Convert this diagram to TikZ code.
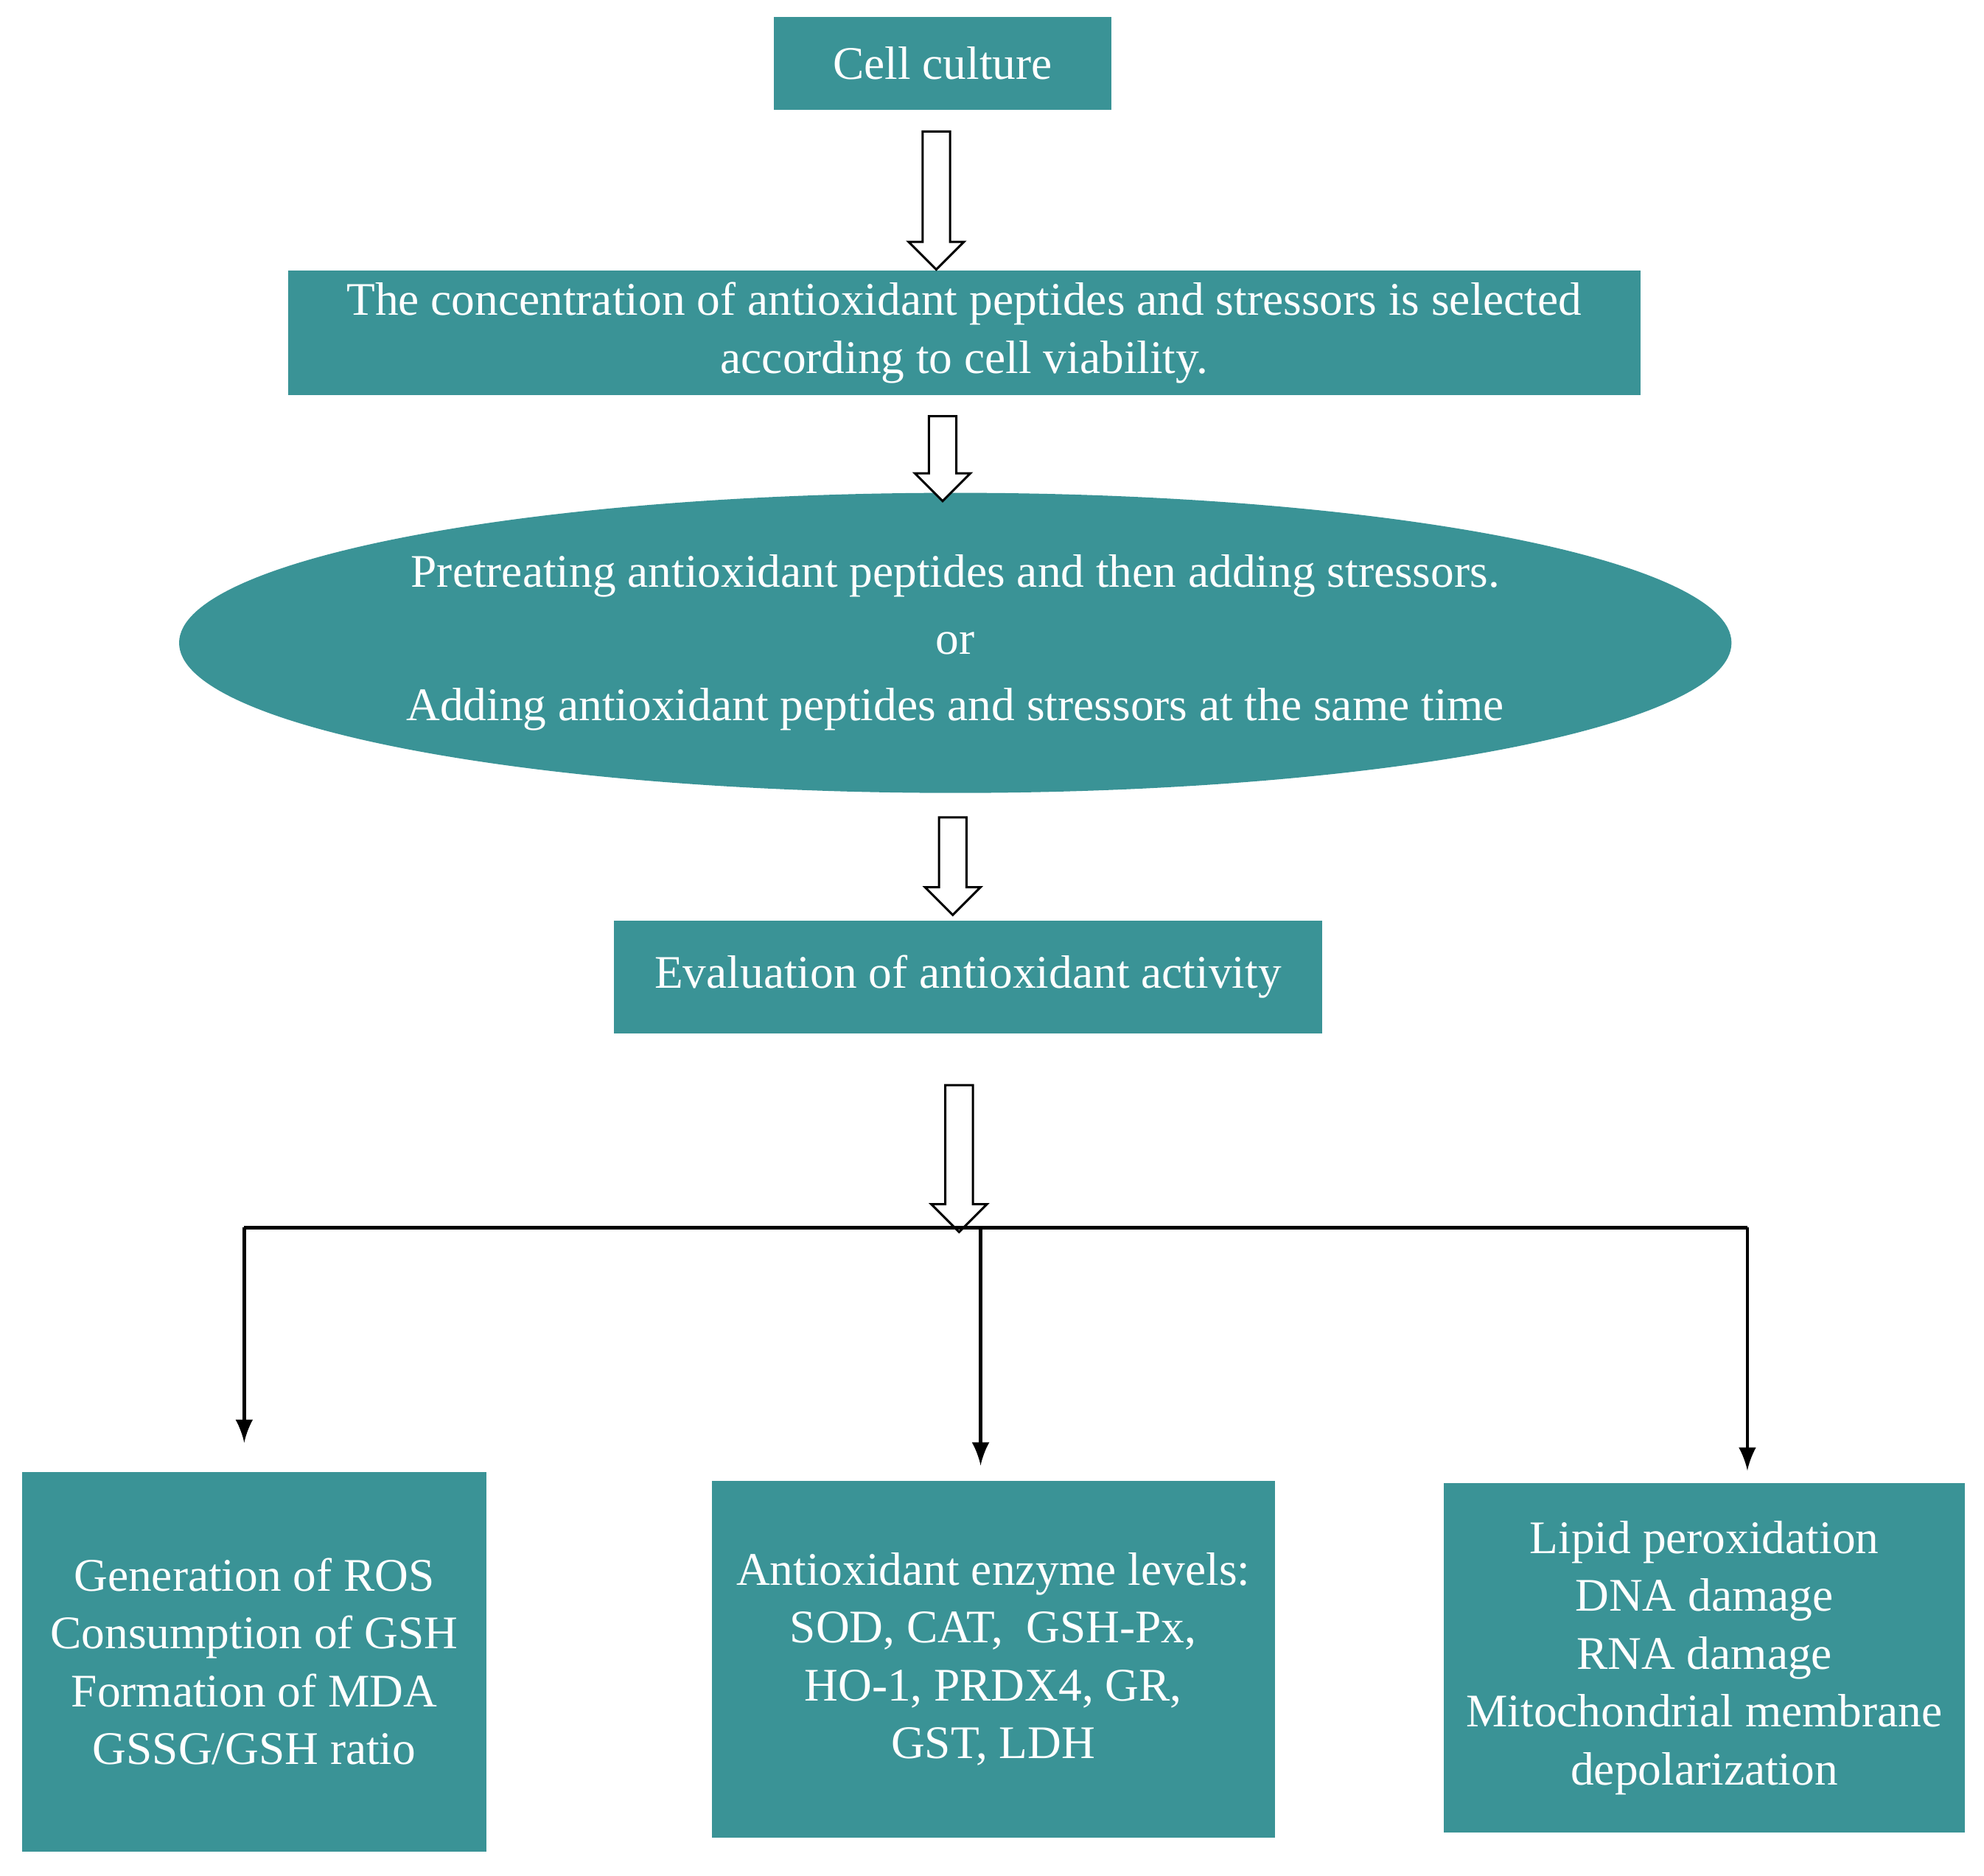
\documentclass[tikz,border=0pt]{standalone}
\usepackage{fontspec}
\setmainfont{Liberation Serif}
\usetikzlibrary{shapes.geometric, shapes.arrows, positioning}
\definecolor{teal1}{HTML}{3A9396}
\begin{document}
\begin{tikzpicture}[x=0.01cm, y=-0.01cm]
	\tikzset{box/.style={rectangle, fill=teal1, text=white, align=center, inner sep=0, font=\fontsize{10.5}{13}\selectfont}}
	\tikzset{hollow/.style={single arrow, draw=black, fill=white, shape border rotate=270, inner sep=0.1cm, single arrow head extend=0.11cm, single arrow tip angle=90, line width=0.5pt}}
	\tikzset{ar/.style={-latex, thick}}
	\useasboundingbox (0,0) rectangle (1568,1482);
	\node[box, minimum width=2.67cm, minimum height=0.73cm] at (745,50) (cell) {Cell culture};
	\node[box, minimum width=10.68cm, minimum height=0.98cm] at (762,263) (conc) {The concentration of antioxidant peptides and stressors is selected\\according to cell viability.};
	\node[box, ellipse, minimum width=12.06cm, minimum height=2.37cm] at (755,508) (treat) {Pretreating antioxidant peptides and then adding stressors.\\[2pt]or\\[2pt]Adding antioxidant peptides and stressors at the same time};
	\node[box, minimum width=5.59cm, minimum height=0.89cm] at (765,772) (eval) {Evaluation of antioxidant activity};
	\node[box, minimum width=3.67cm, minimum height=3.00cm] at (201,1313) (ros) {Generation of ROS\\Consumption of GSH\\Formation of MDA\\GSSG/GSH ratio};
	\node[box, minimum width=4.45cm, minimum height=2.82cm] at (785,1311) (enz) {Antioxidant enzyme levels:\\SOD, CAT,\ \ GSH-Px,\\HO-1, PRDX4, GR,\\GST, LDH};
	\node[box, minimum width=4.12cm, minimum height=2.76cm] at (1347,1310) (lip) {Lipid peroxidation\\DNA damage\\RNA damage\\Mitochondrial membrane\\depolarization};
	% hollow arrows
	\node[hollow, minimum height=1.09cm] at (740,153) (h1) {};
	\node[hollow, minimum height=0.67cm] at (745,357) (h2) {};
	\node[hollow, minimum height=0.77cm] at (753,679) (h3) {};
	\node[hollow, minimum height=1.16cm] at (758,910) (h4) {};
	% branches
	\coordinate (bl) at (193,970);
	\coordinate (bm) at (775,970);
	\coordinate (br) at (1381,970);
	\draw[thick] (bl) -- (br);
	\draw[ar] (bl) -- (193,1140);
	\draw[ar] (bm) -- (775,1158);
	\draw[ar] (br) -- (1381,1162);
\end{tikzpicture}
\end{document}
